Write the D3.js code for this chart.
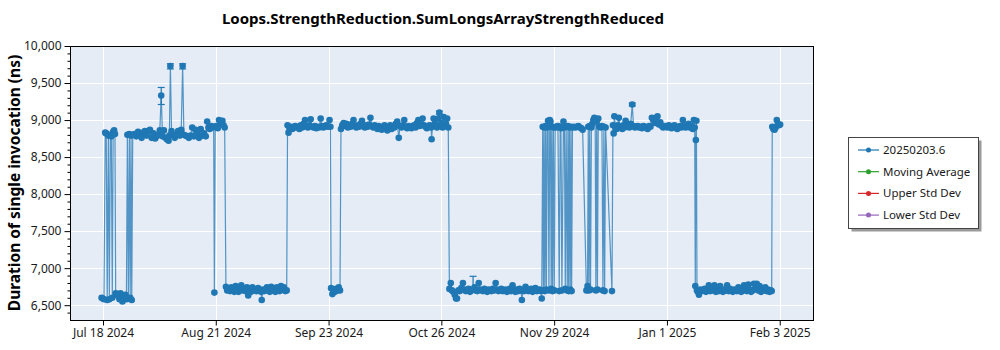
<!DOCTYPE html>
<html>
<head>
<meta charset="utf-8">
<script src="https://cdn.jsdelivr.net/npm/d3@7"></script>
<style>
  body { margin: 0; background: #fff; }
  svg { display: block; font-family: "Segoe UI", "Noto Sans", "Open Sans", sans-serif; }
</style>
</head>
<body>
<svg id="chart" width="1000" height="350"></svg>
<script>
// ---- Chart data -------------------------------------------------------
const chartTitle = "Loops.StrengthReduction.SumLongsArrayStrengthReduced";
const yAxisTitle = "Duration of single invocation (ns)";

// Benchmark runs: [run time (UTC), mean duration in ns]
const runs = [
  // late July: flipping between the two modes
  ["2024-07-18T09",6600],["2024-07-18T18",6590],["2024-07-19T02",6580],["2024-07-19T11",8830],["2024-07-19T18",8820],
  ["2024-07-20T01",6570],["2024-07-20T09",8790],["2024-07-20T16",6580],["2024-07-20T23",8800],["2024-07-21T06",8780],
  ["2024-07-21T13",6600],["2024-07-21T19",8840],["2024-07-22T02",8860],["2024-07-22T08",8810],["2024-07-22T13",6660],
  ["2024-07-22T19",6640],["2024-07-23T02",6650],["2024-07-23T09",6620],["2024-07-23T16",6580],["2024-07-23T23",6660],
  ["2024-07-24T06",6600],["2024-07-24T13",6550],["2024-07-24T20",6630],["2024-07-25T03",6600],["2024-07-25T10",6640],
  ["2024-07-25T17",6580],["2024-07-26T00",8800],["2024-07-26T07",6590],["2024-07-26T14",8810],["2024-07-26T20",6600],
  ["2024-07-27T02",8790],["2024-07-27T07",6570],["2024-07-27T14",8800],
  // slow mode through mid August
  ["2024-07-28T03",8810],["2024-07-28T15",8780],["2024-07-29T04",8840],["2024-07-29T17",8800],["2024-07-30T05",8760],
  ["2024-07-30T16",8830],["2024-07-31T04",8850],["2024-07-31T17",8790],["2024-08-01T05",8850],["2024-08-01T16",8870],
  ["2024-08-02T04",8760],["2024-08-02T17",8820],["2024-08-03T05",8750],["2024-08-03T16",8780],["2024-08-04T04",8800],
  ["2024-08-04T14",8860],["2024-08-05T00",9330],["2024-08-05T09",8780],["2024-08-05T19",8860],["2024-08-06T06",8760],
  ["2024-08-06T16",8740],["2024-08-07T04",8720],["2024-08-07T10",8790],["2024-08-07T17",9730],["2024-08-08T01",8850],
  ["2024-08-08T12",8790],["2024-08-09T00",8760],["2024-08-09T12",8800],["2024-08-10T00",8850],["2024-08-10T12",8790],
  ["2024-08-10T22",8870],["2024-08-11T08",9730],["2024-08-11T17",8800],["2024-08-12T04",8790],["2024-08-12T16",8780],
  ["2024-08-13T04",8760],["2024-08-13T16",8790],["2024-08-14T04",8900],["2024-08-14T16",8780],["2024-08-15T04",8870],
  ["2024-08-15T16",8820],["2024-08-16T04",8760],["2024-08-16T16",8880],["2024-08-17T04",8790],["2024-08-17T16",8820],
  ["2024-08-18T04",8780],
  ["2024-08-18T14",8980],["2024-08-18T23",8900],["2024-08-19T08",8880],["2024-08-19T18",8920],["2024-08-20T04",8900],
  ["2024-08-20T12",8910],["2024-08-20T17",6670],["2024-08-20T23",8910],["2024-08-21T08",8920],["2024-08-21T17",8890],
  ["2024-08-22T02",9000],["2024-08-22T10",8980],["2024-08-22T18",8950],["2024-08-23T02",8990],["2024-08-23T10",8930],
  ["2024-08-23T18",8900],
  // fast mode, late August to mid September
  ["2024-08-24T03",6750],["2024-08-24T12",6700],["2024-08-24T22",6720],["2024-08-25T08",6690],["2024-08-25T18",6740],
  ["2024-08-26T04",6700],["2024-08-26T14",6680],["2024-08-27T00",6760],["2024-08-27T10",6700],["2024-08-27T20",6680],
  ["2024-08-28T06",6730],["2024-08-28T16",6770],["2024-08-29T02",6700],["2024-08-29T12",6720],["2024-08-29T22",6690],
  ["2024-08-30T08",6740],["2024-08-30T17",6630],["2024-08-31T03",6720],["2024-08-31T13",6680],["2024-08-31T23",6740],
  ["2024-09-01T09",6700],["2024-09-01T19",6710],["2024-09-02T05",6690],["2024-09-02T15",6730],["2024-09-03T02",6700],
  ["2024-09-03T12",6680],["2024-09-03T17",6570],["2024-09-04T00",6710],["2024-09-04T10",6690],["2024-09-04T20",6700],
  ["2024-09-05T06",6740],["2024-09-05T16",6720],["2024-09-06T02",6680],["2024-09-06T12",6750],["2024-09-06T22",6700],
  ["2024-09-07T08",6720],["2024-09-07T18",6680],["2024-09-08T04",6740],["2024-09-08T14",6700],["2024-09-09T00",6690],
  ["2024-09-09T10",6760],["2024-09-09T20",6710],["2024-09-10T06",6740],["2024-09-10T16",6690],["2024-09-11T02",6700],
  // slow mode, September
  ["2024-09-11T08",8930],["2024-09-11T15",8830],["2024-09-11T22",8890],["2024-09-12T08",8910],["2024-09-12T18",8880],
  ["2024-09-13T04",8900],["2024-09-13T14",8920],["2024-09-14T00",8900],["2024-09-14T10",8910],["2024-09-14T20",8880],
  ["2024-09-15T06",8930],["2024-09-15T16",8900],["2024-09-16T02",8950],["2024-09-16T12",9000],["2024-09-16T22",8920],
  ["2024-09-17T08",8900],["2024-09-17T18",8930],["2024-09-18T04",9010],["2024-09-18T14",8910],["2024-09-19T00",8900],
  ["2024-09-19T10",8920],["2024-09-19T20",8890],["2024-09-20T06",8910],["2024-09-20T16",8900],["2024-09-21T03",9020],
  ["2024-09-21T12",8920],["2024-09-21T22",8900],["2024-09-22T08",8910],["2024-09-22T18",8930],["2024-09-23T06",8910],
  ["2024-09-23T18",9000],["2024-09-24T00",8910],
  ["2024-09-24T05",6730],["2024-09-24T14",6650],["2024-09-24T23",6690],["2024-09-25T08",6680],["2024-09-25T17",6720],
  ["2024-09-26T02",6700],["2024-09-26T11",6740],["2024-09-26T20",6700],
  // slow mode, October
  ["2024-09-27T03",8880],["2024-09-27T12",8930],["2024-09-27T22",8960],["2024-09-28T08",8920],["2024-09-28T18",8950],
  ["2024-09-29T04",8900],["2024-09-29T14",8930],["2024-09-30T00",8910],["2024-09-30T10",8950],["2024-09-30T20",9000],
  ["2024-10-01T06",8920],["2024-10-01T16",8900],["2024-10-02T02",8930],["2024-10-02T12",8910],["2024-10-02T22",8950],
  ["2024-10-03T08",8990],["2024-10-03T18",8920],["2024-10-04T04",8900],["2024-10-04T14",8930],["2024-10-05T00",8910],
  ["2024-10-05T10",8940],["2024-10-05T20",9030],["2024-10-06T06",8920],["2024-10-06T16",8900],["2024-10-07T02",8930],
  ["2024-10-07T12",8910],["2024-10-07T22",8880],["2024-10-08T08",8920],["2024-10-08T18",8900],["2024-10-09T04",8870],
  ["2024-10-09T14",8910],["2024-10-10T00",8930],["2024-10-10T10",8890],["2024-10-10T20",8860],["2024-10-11T06",8900],
  ["2024-10-11T16",8930],["2024-10-12T02",8880],["2024-10-12T12",8920],["2024-10-12T22",8900],["2024-10-13T08",8950],
  ["2024-10-13T18",8980],["2024-10-14T05",8760],["2024-10-14T14",8920],["2024-10-15T00",8900],["2024-10-15T10",8930],
  ["2024-10-15T20",9000],["2024-10-16T06",8910],["2024-10-16T16",8890],["2024-10-17T02",8920],["2024-10-17T12",8900],
  ["2024-10-17T22",8890],["2024-10-18T08",8920],["2024-10-18T18",8930],["2024-10-19T04",8900],["2024-10-19T14",8960],
  ["2024-10-20T00",9000],["2024-10-20T10",8920],["2024-10-20T20",8940],["2024-10-21T06",9020],["2024-10-21T16",8930],
  ["2024-10-22T02",8910],["2024-10-22T12",8890],["2024-10-22T22",8920],["2024-10-23T08",8930],["2024-10-23T18",8900],
  ["2024-10-23T22",8740],["2024-10-24T04",8920],["2024-10-24T12",9020],["2024-10-24T20",8950],["2024-10-25T04",8920],
  ["2024-10-25T12",8900],["2024-10-25T20",9020],["2024-10-26T05",9100],["2024-10-26T12",8930],["2024-10-26T20",8960],
  ["2024-10-27T04",8900],["2024-10-27T12",9040],["2024-10-27T20",8920],["2024-10-28T04",8950],["2024-10-28T12",9020],
  ["2024-10-28T20",8900],
  // fast mode, November
  ["2024-10-29T04",6720],["2024-10-29T14",6800],["2024-10-29T22",6700],["2024-10-30T08",6680],["2024-10-30T18",6640],
  ["2024-10-31T03",6590],["2024-10-31T10",6590],["2024-10-31T20",6700],["2024-11-01T06",6690],["2024-11-01T16",6730],
  ["2024-11-02T04",6800],["2024-11-02T14",6710],["2024-11-03T00",6690],["2024-11-03T10",6700],["2024-11-03T20",6720],
  ["2024-11-04T06",6680],["2024-11-04T16",6700],["2024-11-05T04",6710],["2024-11-05T14",6740],["2024-11-06T00",6700],
  ["2024-11-06T10",6690],["2024-11-06T20",6800],["2024-11-07T06",6710],["2024-11-07T16",6700],["2024-11-08T02",6690],
  ["2024-11-08T12",6720],["2024-11-08T22",6700],["2024-11-09T08",6680],["2024-11-09T18",6710],["2024-11-10T04",6700],
  ["2024-11-10T14",6690],["2024-11-11T00",6720],["2024-11-11T10",6700],["2024-11-11T20",6800],["2024-11-12T06",6710],
  ["2024-11-12T16",6690],["2024-11-13T02",6700],["2024-11-13T12",6720],["2024-11-13T22",6690],["2024-11-14T08",6700],
  ["2024-11-14T18",6710],["2024-11-15T04",6680],["2024-11-15T14",6700],["2024-11-16T00",6720],["2024-11-16T10",6690],
  ["2024-11-16T20",6770],["2024-11-17T06",6700],["2024-11-17T16",6680],["2024-11-18T02",6710],["2024-11-18T12",6690],
  ["2024-11-18T22",6720],["2024-11-19T08",6700],["2024-11-19T14",6570],["2024-11-19T20",6700],["2024-11-20T06",6690],
  ["2024-11-20T16",6750],["2024-11-21T02",6710],["2024-11-21T12",6690],["2024-11-21T22",6700],["2024-11-22T08",6720],
  ["2024-11-22T18",6680],["2024-11-23T04",6700],["2024-11-23T14",6730],["2024-11-24T00",6690],["2024-11-24T10",6700],
  ["2024-11-24T20",6710],["2024-11-25T05",6690],
  // late November to mid December: flipping between the two modes
  ["2024-11-25T11",6590],["2024-11-25T18",8910],["2024-11-25T23",6700],["2024-11-26T04",8900],["2024-11-26T09",6690],
  ["2024-11-26T15",8920],["2024-11-26T20",6710],["2024-11-27T02",8900],["2024-11-27T08",8990],["2024-11-27T14",6700],
  ["2024-11-27T20",9000],["2024-11-28T01",8980],["2024-11-28T06",6720],["2024-11-28T11",8910],["2024-11-28T16",6690],
  ["2024-11-28T22",8900],["2024-11-29T04",6700],["2024-11-29T10",8910],["2024-11-29T19",8900],["2024-11-30T06",8920],
  ["2024-11-30T15",6690],["2024-11-30T22",8910],["2024-12-01T03",8890],["2024-12-01T10",6700],["2024-12-01T21",8980],
  ["2024-12-02T04",8900],["2024-12-02T10",6720],["2024-12-02T16",8910],["2024-12-03T00",6700],["2024-12-03T05",8920],
  ["2024-12-03T10",6690],["2024-12-03T15",8900],["2024-12-03T21",6710],["2024-12-04T02",8910],["2024-12-04T07",6690],
  ["2024-12-04T13",8900],["2024-12-04T23",8910],["2024-12-05T10",8900],["2024-12-05T21",8910],["2024-12-06T07",8920],
  ["2024-12-06T18",8900],["2024-12-07T05",8890],["2024-12-07T13",8870],["2024-12-08T16",6700],["2024-12-09T00",6760],
  ["2024-12-09T05",8910],["2024-12-09T10",6700],["2024-12-09T15",8920],["2024-12-09T21",6710],["2024-12-10T03",8900],
  ["2024-12-10T10",8950],["2024-12-10T17",9000],["2024-12-11T00",9030],["2024-12-11T06",8990],["2024-12-11T11",6700],
  ["2024-12-11T17",8980],["2024-12-11T22",6710],["2024-12-12T04",9020],["2024-12-12T11",8910],["2024-12-12T21",8900],
  ["2024-12-13T06",8920],["2024-12-13T13",6700],["2024-12-13T20",8910],["2024-12-14T01",6690],["2024-12-14T08",8900],
  ["2024-12-16T05",6690],
  // slow mode, late December to early January
  ["2024-12-16T12",8930],["2024-12-16T17",8820],["2024-12-16T22",9050],["2024-12-17T06",8900],["2024-12-17T14",8880],
  ["2024-12-17T22",8930],["2024-12-18T06",9030],["2024-12-18T14",8900],["2024-12-18T22",8910],["2024-12-19T06",8880],
  ["2024-12-19T14",8930],["2024-12-19T22",8900],["2024-12-20T06",8990],["2024-12-20T14",8920],["2024-12-20T22",8910],
  ["2024-12-21T08",8900],["2024-12-21T18",8950],["2024-12-22T05",9210],["2024-12-22T14",8920],["2024-12-23T00",8900],
  ["2024-12-23T10",8910],["2024-12-23T20",8920],["2024-12-24T06",8900],["2024-12-24T16",8910],["2024-12-25T02",8890],
  ["2024-12-25T12",8920],["2024-12-25T22",8910],["2024-12-26T08",8900],["2024-12-26T18",8880],["2024-12-27T04",8920],
  ["2024-12-27T14",8910],["2024-12-28T00",9030],["2024-12-28T10",9000],["2024-12-28T20",8960],["2024-12-29T06",9030],
  ["2024-12-29T16",9050],["2024-12-30T02",8940],["2024-12-30T12",8970],["2024-12-30T22",8920],["2024-12-31T08",8900],
  ["2024-12-31T18",8920],["2025-01-01T04",8910],["2025-01-01T14",8900],["2025-01-02T00",8930],["2025-01-02T10",8920],
  ["2025-01-02T20",8890],["2025-01-03T06",8900],["2025-01-03T16",8930],["2025-01-04T02",8910],["2025-01-04T12",8880],
  ["2025-01-04T22",8900],["2025-01-05T08",8920],["2025-01-05T18",8900],["2025-01-06T04",9000],["2025-01-06T14",8930],
  ["2025-01-07T00",8900],["2025-01-07T10",8910],["2025-01-07T20",8950],["2025-01-08T06",8900],["2025-01-08T16",8920],
  ["2025-01-09T02",8880],["2025-01-09T10",9000],["2025-01-09T16",8900],["2025-01-09T20",6760],["2025-01-10T00",8730],
  ["2025-01-10T04",8990],
  // fast mode, January
  ["2025-01-10T08",6700],["2025-01-10T14",6680],["2025-01-10T22",6640],["2025-01-11T08",6710],["2025-01-11T18",6690],
  ["2025-01-12T04",6700],["2025-01-12T14",6720],["2025-01-13T00",6680],["2025-01-13T10",6700],["2025-01-13T20",6770],
  ["2025-01-14T06",6690],["2025-01-14T16",6700],["2025-01-15T02",6720],["2025-01-15T12",6770],["2025-01-15T22",6680],
  ["2025-01-16T08",6700],["2025-01-16T18",6690],["2025-01-17T04",6760],["2025-01-17T14",6700],["2025-01-18T00",6680],
  ["2025-01-18T10",6710],["2025-01-18T20",6700],["2025-01-19T06",6770],["2025-01-19T16",6690],["2025-01-20T02",6720],
  ["2025-01-20T12",6700],["2025-01-20T22",6680],["2025-01-21T08",6710],["2025-01-21T18",6700],["2025-01-22T04",6690],
  ["2025-01-22T14",6740],["2025-01-23T00",6700],["2025-01-23T10",6680],["2025-01-23T20",6720],["2025-01-24T06",6770],
  ["2025-01-24T16",6700],["2025-01-25T02",6690],["2025-01-25T12",6780],["2025-01-25T22",6710],["2025-01-26T08",6680],
  ["2025-01-26T18",6700],["2025-01-27T04",6790],["2025-01-27T14",6720],["2025-01-28T00",6790],["2025-01-28T10",6700],
  ["2025-01-28T20",6760],["2025-01-29T06",6680],["2025-01-29T16",6720],["2025-01-30T02",6700],["2025-01-30T12",6740],
  ["2025-01-30T22",6690],["2025-01-31T08",6710],["2025-01-31T18",6680],["2025-02-01T04",6700],["2025-02-01T10",6690],
  // slow mode again, start of February
  ["2025-02-01T14",8910],["2025-02-01T22",8880],["2025-02-02T06",8870],["2025-02-02T14",8900],["2025-02-02T22",9000],
  ["2025-02-03T06",8950],["2025-02-03T14",8930],["2025-02-03T22",8940]
];

// Runs whose error bars stick out past the marker: [run time, lower, upper]
const errorBars = [
  ["2024-08-05T00", 9210, 9440],
  ["2024-08-07T17", 9690, 9760],
  ["2024-08-11T08", 9690, 9760],
  ["2024-10-26T05", 9080, 9120],
  ["2024-11-05T04", 6700, 6890],
  ["2024-12-22T05", 9190, 9230]
];

const yDomain = [6300, 10000];
const yMajorTicks = [6500, 7000, 7500, 8000, 8500, 9000, 9500, 10000];
const yMinorTicks = [6400, 6600, 6700, 6800, 6900, 7100, 7200, 7300, 7400, 7600, 7700, 7800, 7900,
                     8100, 8200, 8300, 8400, 8600, 8700, 8800, 8900, 9100, 9200, 9300, 9400,
                     9600, 9700, 9800, 9900];
const xDomain = ["2024-07-09T01", "2025-02-13T15"];
const xTicks = ["2024-07-18T19", "2024-08-21T03", "2024-09-23T11", "2024-10-26T19",
                "2024-11-29T03", "2025-01-01T11", "2025-02-03T19"];

const legendLabels = ["20250203.6", "Moving Average", "Upper Std Dev", "Lower Std Dev"];
const legendColors = ["#1f77b4", "#2ca02c", "#d62728", "#9467bd"];

// ---- Layout -----------------------------------------------------------
const plot = { left: 70, top: 46, right: 813, bottom: 320 };
const seriesColor = legendColors[0];

const parseTime = d3.utcParse("%Y-%m-%dT%H");
const fmtDate = d3.utcFormat("%b %-d %Y");

const svg = d3.select("#chart");

const x = d3.scaleUtc()
  .domain(xDomain.map(parseTime))
  .range([plot.left, plot.right]);
const y = d3.scaleLinear()
  .domain(yDomain)
  .range([plot.bottom, plot.top]);

const points = runs.map(([t, v]) => ({ t: parseTime(t), v }));
const bars = errorBars.map(([t, lo, hi]) => ({ t: parseTime(t), lo, hi }));

// plot background
svg.append("rect")
  .attr("x", plot.left).attr("y", plot.top)
  .attr("width", plot.right - plot.left).attr("height", plot.bottom - plot.top)
  .attr("fill", "#e5ecf6");

// grid lines
const grid = svg.append("g").attr("stroke", "#fff").attr("stroke-width", 1);
grid.selectAll(".gy").data(yMajorTicks).join("line")
  .attr("x1", plot.left).attr("x2", plot.right)
  .attr("y1", d => Math.round(y(d)) + 0.5).attr("y2", d => Math.round(y(d)) + 0.5);
grid.selectAll(".gx").data(xTicks.map(parseTime)).join("line")
  .attr("y1", plot.top).attr("y2", plot.bottom)
  .attr("x1", d => Math.round(x(d)) + 0.5).attr("x2", d => Math.round(x(d)) + 0.5);

// data
svg.append("clipPath").attr("id", "plot-clip")
  .append("rect")
  .attr("x", plot.left).attr("y", plot.top)
  .attr("width", plot.right - plot.left).attr("height", plot.bottom - plot.top);
const data = svg.append("g").attr("clip-path", "url(#plot-clip)");

data.append("path")
  .datum(points)
  .attr("fill", "none")
  .attr("stroke", seriesColor)
  .attr("stroke-opacity", 0.75)
  .attr("stroke-width", 1.2)
  .attr("d", d3.line().x(d => x(d.t)).y(d => y(d.v)));

const eb = data.append("g").attr("stroke", seriesColor).attr("stroke-width", 1.2);
eb.selectAll(".stem").data(bars).join("line")
  .attr("x1", d => x(d.t)).attr("x2", d => x(d.t))
  .attr("y1", d => y(d.lo)).attr("y2", d => y(d.hi));
eb.selectAll(".capHi").data(bars).join("line")
  .attr("x1", d => x(d.t) - 3.5).attr("x2", d => x(d.t) + 3.5)
  .attr("y1", d => y(d.hi)).attr("y2", d => y(d.hi));
eb.selectAll(".capLo").data(bars).join("line")
  .attr("x1", d => x(d.t) - 3.5).attr("x2", d => x(d.t) + 3.5)
  .attr("y1", d => y(d.lo)).attr("y2", d => y(d.lo));

data.append("g").attr("fill", seriesColor)
  .selectAll("circle").data(points).join("circle")
  .attr("cx", d => x(d.t)).attr("cy", d => y(d.v)).attr("r", 3.3);

// plot frame
svg.append("rect")
  .attr("x", plot.left + 0.5).attr("y", plot.top + 0.5)
  .attr("width", plot.right - plot.left).attr("height", plot.bottom - plot.top)
  .attr("fill", "none").attr("stroke", "#000").attr("stroke-width", 1);

// axes
const styleAxis = g => {
  g.select(".domain").remove();
  g.selectAll("text").attr("fill", "#1a1a1a").style("font-size", "12px")
    .style("font-family", "\"Segoe UI\", \"Noto Sans\", \"Open Sans\", sans-serif");
  g.selectAll("line").attr("stroke", "#000");
};

svg.append("g")
  .attr("transform", `translate(${plot.left + 0.5},0)`)
  .call(d3.axisLeft(y).tickValues(yMinorTicks).tickSize(3).tickFormat(""))
  .call(styleAxis);
svg.append("g")
  .attr("transform", `translate(${plot.left + 0.5},0)`)
  .call(d3.axisLeft(y).tickValues(yMajorTicks).tickSize(6).tickPadding(3).tickFormat(d3.format(",")))
  .call(styleAxis);
svg.append("g")
  .attr("transform", `translate(0,${plot.bottom + 0.5})`)
  .call(d3.axisBottom(x).tickValues(xTicks.map(parseTime)).tickSize(5).tickPadding(3).tickFormat(fmtDate))
  .call(styleAxis);

// titles
svg.append("text")
  .attr("x", 443).attr("y", 24)
  .attr("text-anchor", "middle")
  .style("font-size", "15px").style("font-weight", "bold")
  .attr("fill", "#000")
  .text(chartTitle);

svg.append("text")
  .attr("transform", `translate(20,${(plot.top + plot.bottom) / 2}) rotate(-90)`)
  .attr("text-anchor", "middle")
  .style("font-size", "15.5px").style("font-weight", "bold")
  .attr("fill", "#000")
  .text(yAxisTitle);

// legend
const lg = svg.append("g").attr("transform", "translate(848,137)");
lg.append("rect").attr("x", 3.5).attr("y", 3.5).attr("width", 130).attr("height", 91).attr("fill", "#9a9a9a");
lg.append("rect").attr("x", 0.5).attr("y", 0.5).attr("width", 130).attr("height", 91)
  .attr("fill", "#fff").attr("stroke", "#444");
const item = lg.selectAll(".item").data(legendLabels).join("g")
  .attr("transform", (d, i) => `translate(0,${13 + i * 21.7})`);
item.append("line").attr("x1", 10).attr("x2", 31).attr("stroke", (d, i) => legendColors[i]).attr("stroke-width", 1.2);
item.append("circle").attr("cx", 20.5).attr("r", 2.5).attr("fill", (d, i) => legendColors[i]);
item.append("text").attr("x", 35).attr("dy", "0.35em")
  .style("font-size", "11.5px").attr("fill", "#1a1a1a").text(d => d);
</script>
</body>
</html>
